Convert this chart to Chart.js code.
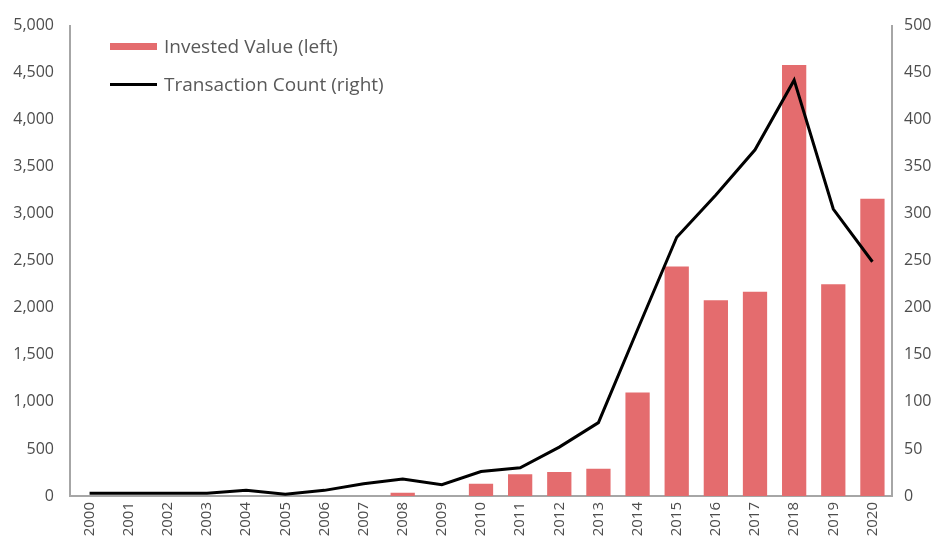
<!DOCTYPE html>
<html>
<head>
<meta charset="utf-8">
<script src="https://cdn.jsdelivr.net/npm/chart.js@4.4.1/dist/chart.umd.min.js"></script>
<style>
  html, body { margin: 0; padding: 0; background: #ffffff; }
  #wrap { position: relative; width: 935px; height: 546px; }
  canvas { display: block; }
  #legend { position: absolute; left: 110px; top: 27px; font-family: "Open Sans", sans-serif; font-size: 19px; color: #595959; }
  .item { display: flex; align-items: center; height: 38px; }
  .sw { width: 47px; margin-right: 7px; }
</style>
</head>
<body>
<div id="wrap">
  <canvas id="c" width="935" height="546"></canvas>
  <div id="legend">
    <div class="item"><span class="sw" style="height:7px;background:#e46c6e;"></span><span>Invested Value (left)</span></div>
    <div class="item"><span class="sw" style="height:3px;background:#000;"></span><span>Transaction Count (right)</span></div>
  </div>
</div>
<script>
const years = ["2000","2001","2002","2003","2004","2005","2006","2007","2008","2009","2010","2011","2012","2013","2014","2015","2016","2017","2018","2019","2020"];
const investedValue = [0,0,0,0,0,0,0,0,35,0,130,230,255,290,1100,2440,2080,2170,4580,2250,3160];
const transactionCount = [3,3,3,3,6,2,6,13,18,12,26,30,52,78,177,275,320,368,442,305,249];
const leftTicks = [0,500,1000,1500,2000,2500,3000,3500,4000,4500,5000];
const rightTicks = [0,50,100,150,200,250,300,350,400,450,500];

const tickFont = { family: "Open Sans", size: 16 };
const axisColor = "#a6a6a6";
const textColor = "#4d4d4d";

new Chart(document.getElementById("c"), {
  data: {
    labels: years,
    datasets: [
      {
        type: "line",
        label: "Transaction Count (right)",
        data: transactionCount,
        yAxisID: "y2",
        borderColor: "#000000",
        borderWidth: 3,
        pointRadius: 0,
        tension: 0,
        order: 0
      },
      {
        type: "bar",
        label: "Invested Value (left)",
        data: investedValue,
        yAxisID: "y",
        backgroundColor: "#e46c6e",
        categoryPercentage: 1.0,
        barPercentage: 0.62,
        order: 1
      }
    ]
  },
  options: {
    responsive: false,
    animation: false,
    layout: { padding: { top: 5, right: 0, left: 0, bottom: 0 } },
    plugins: { legend: { display: false }, tooltip: { enabled: false } },
    scales: {
      x: {
        grid: { display: false, drawTicks: false },
        border: { display: true, color: axisColor, width: 2 },
        ticks: {
          color: textColor,
          font: { family: "Open Sans", size: 15 },
          minRotation: 90,
          maxRotation: 90,
          padding: 6,
          autoSkip: false
        },
        afterFit: s => { s.height = 50; }
      },
      y: {
        position: "left",
        min: 0,
        max: 5000,
        afterBuildTicks: s => { s.ticks = leftTicks.map(v => ({ value: v })); },
        grid: { display: false, drawTicks: false },
        border: { display: true, color: axisColor, width: 2 },
        ticks: {
          color: textColor,
          font: tickFont,
          padding: 16,
          callback: v => v.toLocaleString("en-US")
        },
        afterFit: s => { s.width = 70; }
      },
      y2: {
        position: "right",
        min: 0,
        max: 500,
        afterBuildTicks: s => { s.ticks = rightTicks.map(v => ({ value: v })); },
        grid: { display: false, drawTicks: false },
        border: { display: true, color: axisColor, width: 2 },
        ticks: {
          color: textColor,
          font: tickFont,
          padding: 12
        },
        afterFit: s => { s.width = 43; }
      }
    }
  }
});
</script>
</body>
</html>
